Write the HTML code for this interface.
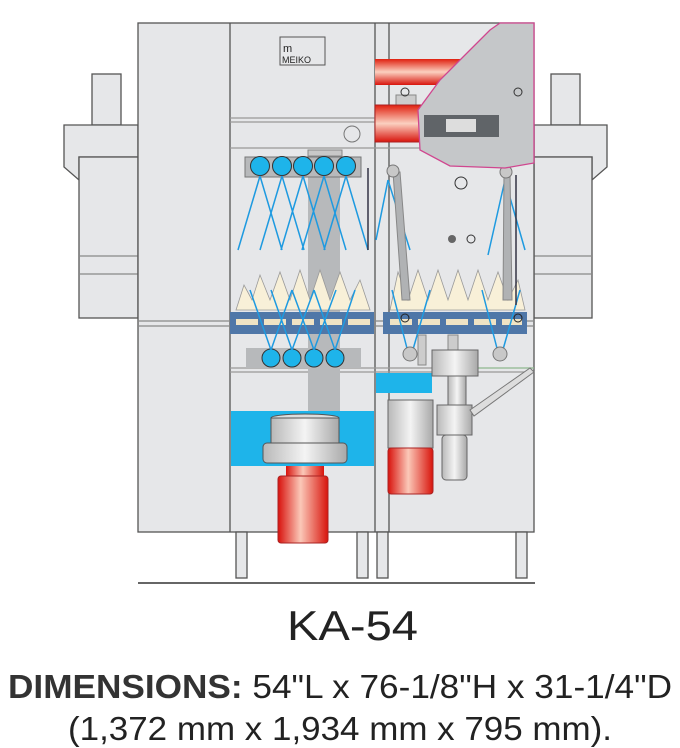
<!DOCTYPE html>
<html><head><style>
html,body{margin:0;padding:0;background:#fff;width:680px;height:748px;overflow:hidden}
svg{display:block}
text{font-family:"Liberation Sans Narrow","Liberation Sans",sans-serif;fill:#222}
</style></head><body>
<svg width="680" height="748" viewBox="0 0 680 748" xmlns="http://www.w3.org/2000/svg">
<defs>
<linearGradient id="red" x1="0" x2="1"><stop offset="0" stop-color="#d8120c"/><stop offset=".45" stop-color="#fbc8b8"/><stop offset="1" stop-color="#d8140c"/></linearGradient>
<linearGradient id="redv" x1="0" y1="0" x2="0" y2="1"><stop offset="0" stop-color="#e0200f"/><stop offset=".5" stop-color="#fbd0c0"/><stop offset="1" stop-color="#d8140c"/></linearGradient>
<linearGradient id="gr" x1="0" x2="1"><stop offset="0" stop-color="#b8b8b8"/><stop offset=".5" stop-color="#f4f4f4"/><stop offset="1" stop-color="#a8a8a8"/></linearGradient>
</defs>
<g stroke="#555" stroke-width="1.3" fill="#e6e7e9">
<!-- left side unit -->
<rect x="92" y="74" width="29" height="51"/>
<path d="M64 125H138V157H79V180L64 167Z"/>
<rect x="79" y="157" width="59" height="161"/>
<line x1="79" y1="256" x2="138" y2="256" stroke="#888"/>
<line x1="79" y1="274" x2="138" y2="274" stroke="#888"/>
<!-- right side unit -->
<rect x="551" y="74" width="29" height="51"/>
<path d="M534 125H607V167L592 180V157H534Z"/>
<rect x="534" y="157" width="58" height="161"/>
<line x1="534" y1="256" x2="592" y2="256" stroke="#888"/>
<line x1="534" y1="274" x2="592" y2="274" stroke="#888"/>
<!-- main body -->
<rect x="138" y="23" width="396" height="509"/>
<line x1="230" y1="23" x2="230" y2="532"/>
<line x1="375" y1="23" x2="375" y2="532"/>
<line x1="389" y1="23" x2="389" y2="532"/>
<line x1="138" y1="321" x2="534" y2="321" stroke="#888"/>
<line x1="138" y1="326" x2="534" y2="326" stroke="#888"/>
<line x1="230" y1="118" x2="375" y2="118" stroke="#999"/>
<line x1="230" y1="122" x2="375" y2="122" stroke="#999"/>
<line x1="230" y1="148" x2="534" y2="148" stroke="#999"/>
<line x1="230" y1="368" x2="534" y2="368" stroke="#999"/>
<line x1="230" y1="372" x2="534" y2="372" stroke="#999"/>
<!-- legs -->
<rect x="236" y="532" width="11" height="46"/><rect x="357" y="532" width="11" height="46"/>
<rect x="377" y="532" width="11" height="46"/><rect x="516" y="532" width="11" height="46"/>
</g>
<line x1="138" y1="583" x2="535" y2="583" stroke="#333" stroke-width="1.5"/>
<!-- logo -->
<rect x="280" y="37" width="45" height="28" fill="#e6e7e9" stroke="#555"/>
<text x="283" y="52" font-size="11" fill="#777">m</text><text x="282" y="63" font-size="9" fill="#777">MEIKO</text>
<circle cx="352" cy="134" r="8" fill="none" stroke="#777"/>
<!-- center column -->
<rect x="308" y="177" width="32" height="234" fill="#b7b9bb"/>
<rect x="308" y="150" width="34" height="6" fill="#c8c8c8" stroke="#888"/>
<!-- dishes -->
<g fill="#f8f0d8" stroke="#999" stroke-width=".8">
<path d="M236 310L244 285L252 300L260 275L270 300L280 272L290 300L300 270L310 300L320 270L330 300L340 272L350 300L360 280L370 310Z"/>
<path d="M390 310L398 272L408 300L418 270L428 300L438 270L448 300L458 270L468 300L478 270L488 300L498 272L508 300L518 280L525 310Z"/>
</g>
<!-- racks -->
<rect x="230" y="312" width="144" height="22" fill="#4f77a8"/>
<rect x="383" y="312" width="144" height="22" fill="#4f77a8"/>
<g fill="#efe3c4"><rect x="236" y="319" width="22" height="6"/><rect x="264" y="319" width="22" height="6"/><rect x="292" y="319" width="22" height="6"/><rect x="320" y="319" width="22" height="6"/><rect x="348" y="319" width="22" height="6"/>
<rect x="390" y="319" width="22" height="6"/><rect x="418" y="319" width="22" height="6"/><rect x="446" y="319" width="22" height="6"/><rect x="474" y="319" width="22" height="6"/><rect x="502" y="319" width="20" height="6"/></g>
<!-- spray manifolds -->
<rect x="245" y="157" width="116" height="20" fill="#b7b9bb" stroke="#777"/>
<g fill="#1eb4ea" stroke="#333"><circle cx="260" cy="166" r="9.5"/><circle cx="282" cy="166" r="9.5"/><circle cx="303" cy="166" r="9.5"/><circle cx="324" cy="166" r="9.5"/><circle cx="346" cy="166" r="9.5"/></g>
<rect x="246" y="348" width="115" height="20" fill="#b7b9bb"/>
<g fill="#1eb4ea" stroke="#333"><circle cx="271" cy="358" r="9"/><circle cx="292" cy="358" r="9"/><circle cx="314" cy="358" r="9"/><circle cx="335" cy="358" r="9"/></g>
<!-- spray lines -->
<g stroke="#1e9ae0" stroke-width="1.5" fill="none">
<path d="M260 176L238 250M260 176L282 250M282 176L260 250M282 176L304 250M303 176L281 250M303 176L325 250M324 176L302 250M324 176L346 250M346 176L324 250M346 176L368 250"/>
<path d="M271 350L250 290M271 350L292 290M292 350L271 290M292 350L314 290M314 350L292 290M314 350L336 290M335 350L314 290M335 350L355 290"/>
<path d="M388 180L376 240M388 180L410 250M505 180L488 255M505 180L525 250M410 360L392 290M410 360L430 290M500 360L482 290M500 360L520 290"/>
</g>
<line x1="368" y1="168" x2="368" y2="250" stroke="#334" stroke-width="1.5"/>
<line x1="516" y1="175" x2="516" y2="305" stroke="#334" stroke-width="1.5"/>
<!-- right arms -->
<path d="M393 172L400 172L410 300L402 300Z" fill="#b0b2b4" stroke="#888"/>
<path d="M504 172L510 172L512 300L503 300Z" fill="#b0b2b4" stroke="#888"/>
<g fill="#c8c8c8" stroke="#777"><circle cx="393" cy="171" r="6"/><circle cx="506" cy="172" r="6"/><circle cx="410" cy="354" r="7"/><circle cx="500" cy="354" r="7"/></g>
<circle cx="461" cy="183" r="6" fill="none" stroke="#333"/><circle cx="471" cy="239" r="4" fill="none" stroke="#333"/><circle cx="452" cy="239" r="4" fill="#666"/>
<circle cx="405" cy="318" r="4" fill="none" stroke="#222"/><circle cx="518" cy="318" r="4" fill="none" stroke="#222"/>
<!-- red pipe & top motor -->
<rect x="375" y="59" width="95" height="26" fill="url(#redv)"/>
<rect x="396" y="95" width="20" height="12" fill="#ccc" stroke="#888"/>
<rect x="375" y="105" width="52" height="37" fill="url(#redv)" stroke="#a22"/>
<!-- gray cover blob -->
<path d="M500 23H534V163L505 168L450 166L420 150L418 110L440 80L470 50L490 30Z" fill="#c5c7c9" stroke="#d0468f" stroke-width="1.3"/>
<rect x="424" y="115" width="75" height="22" fill="#606468"/><rect x="446" y="119" width="30" height="13" fill="#ddd"/>
<circle cx="518" cy="92" r="4" fill="none" stroke="#333"/><circle cx="405" cy="92" r="4" fill="none" stroke="#333"/>
<!-- water tanks -->
<rect x="231" y="411" width="143" height="55" fill="#1eb4ea"/>
<rect x="376" y="373" width="56" height="20" fill="#1eb4ea"/>
<line x1="432" y1="368" x2="534" y2="368" stroke="#8c8" stroke-width=".8"/>
<!-- pump left -->
<ellipse cx="305" cy="418" rx="34" ry="4" fill="#ddd" stroke="#555"/>
<rect x="271" y="418" width="68" height="28" fill="url(#gr)" stroke="#555"/>
<rect x="263" y="443" width="84" height="20" rx="4" fill="url(#gr)" stroke="#555"/>
<rect x="286" y="466" width="38" height="12" fill="url(#red)"/>
<rect x="278" y="476" width="50" height="67" rx="3" fill="url(#red)" stroke="#a22"/>
<!-- right pump/motor -->
<rect x="418" y="335" width="8" height="30" fill="#ccc" stroke="#888"/>
<rect x="388" y="400" width="45" height="48" fill="url(#gr)" stroke="#666"/>
<rect x="388" y="448" width="45" height="46" rx="3" fill="url(#red)" stroke="#a22"/>
<rect x="448" y="335" width="10" height="15" fill="#ccc" stroke="#888"/>
<rect x="432" y="350" width="46" height="26" fill="url(#gr)" stroke="#666"/>
<rect x="448" y="376" width="18" height="40" fill="url(#gr)" stroke="#666"/>
<rect x="437" y="405" width="35" height="30" fill="url(#gr)" stroke="#666"/>
<rect x="442" y="435" width="25" height="45" rx="4" fill="url(#gr)" stroke="#666"/>
<path d="M470 410L530 368L534 372L474 416Z" fill="#ddd" stroke="#777"/>
<!-- text -->
<text x="287" y="640" font-size="42" textLength="131" lengthAdjust="spacingAndGlyphs">KA-54</text>
<text x="8" y="698" font-size="33" textLength="664" lengthAdjust="spacingAndGlyphs"><tspan font-weight="bold" fill="#333">DIMENSIONS:</tspan> 54"L x 76-1/8"H x 31-1/4"D</text>
<text x="68" y="740" font-size="33" textLength="544" lengthAdjust="spacingAndGlyphs">(1,372 mm x 1,934 mm x 795 mm).</text>
</svg>
</body></html>
